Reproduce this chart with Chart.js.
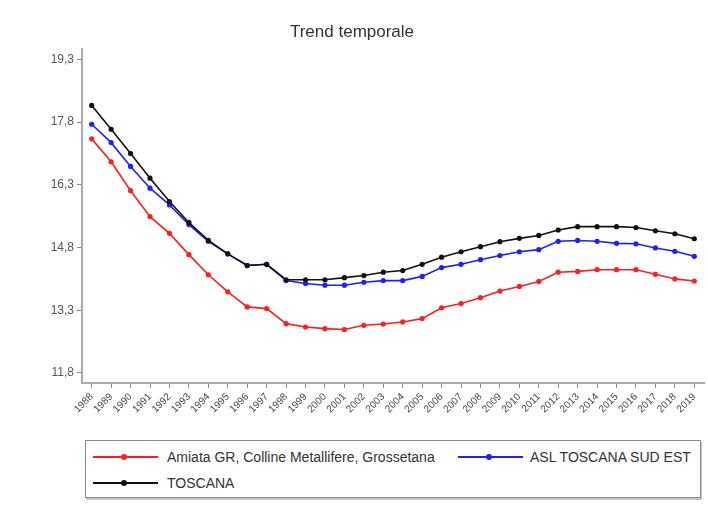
<!DOCTYPE html>
<html>
<head>
<meta charset="utf-8">
<script src="https://cdn.jsdelivr.net/npm/chart.js@4"></script>
<style>
  html, body { margin: 0; padding: 0; background: #fff; }
  body { width: 708px; height: 517px; position: relative; font-family: "Liberation Sans", Arial, sans-serif; }
  #wrap { position: absolute; left: 0; top: 0; width: 708px; height: 432px; }
  #legend {
    position: absolute; left: 85px; top: 440px; width: 614px; height: 56px;
    border: 1px solid #8a8a8a; box-shadow: 1px 2px 0 #c4c4c4;
    font-size: 14px; color: #333;
  }
  .item { position: absolute; height: 16px; line-height: 16px; white-space: nowrap; }
  .swatch { position: absolute; left: 0; top: 7px; width: 65px; height: 2px; }
  .swatch::after { content: ""; position: absolute; left: 28px; top: -2px; width: 6px; height: 6px; border-radius: 50%; background: inherit; }
  .item span { position: absolute; left: 74px; top: 0; }
</style>
</head>
<body>
<div id="wrap"><canvas id="trend"></canvas></div>
<div id="legend">
  <div class="item" style="left:7px;top:8px;width:360px"><div class="swatch" style="background:#ff1e1e"></div><span>Amiata GR, Colline Metallifere, Grossetana</span></div>
  <div class="item" style="left:372px;top:8px;width:240px"><div class="swatch" style="background:#1e1eff"></div><span style="left:72px">ASL TOSCANA SUD EST</span></div>
  <div class="item" style="left:7px;top:34px;width:200px"><div class="swatch" style="background:#111"></div><span>TOSCANA</span></div>
</div>
<script>
// anni 1988 - 2019
const years = [];
for (let y = 1988; y <= 2019; y++) years.push(String(y));

const amiata = [17.40, 16.85, 16.16, 15.54, 15.14, 14.63, 14.15, 13.74, 13.38, 13.34, 12.98,
  12.90, 12.86, 12.84, 12.94, 12.97, 13.02, 13.10, 13.36, 13.46, 13.60, 13.76, 13.87, 13.99,
  14.21, 14.23, 14.27, 14.27, 14.27, 14.16, 14.05, 14.00];
const aslSudEst = [17.75, 17.31, 16.74, 16.22, 15.82, 15.35, 14.95, 14.65, 14.37, 14.40, 14.01,
  13.94, 13.90, 13.90, 13.97, 14.01, 14.01, 14.11, 14.32, 14.40, 14.51, 14.61, 14.70, 14.75,
  14.95, 14.97, 14.95, 14.90, 14.89, 14.79, 14.71, 14.59];
const toscana = [18.20, 17.63, 17.05, 16.46, 15.90, 15.40, 14.97, 14.65, 14.37, 14.40, 14.03,
  14.03, 14.03, 14.08, 14.13, 14.21, 14.25, 14.40, 14.57, 14.70, 14.82, 14.94, 15.02, 15.09,
  15.22, 15.30, 15.30, 15.30, 15.28, 15.20, 15.13, 15.01];

const yTicks = [11.8, 13.3, 14.8, 16.3, 17.8, 19.3];

function serie(label, data, color, order) {
    return {
        label: label,
        data: data,
        borderColor: color,
        backgroundColor: color,
        borderWidth: 1.6,
        pointRadius: 2.6,
        pointHoverRadius: 3,
        pointBackgroundColor: color,
        pointBorderWidth: 0,
        tension: 0,
        order: order
    };
}

new Chart(document.getElementById('trend'), {
    type: 'line',
    data: {
        labels: years,
        datasets: [
            serie('Amiata GR, Colline Metallifere, Grossetana', amiata, '#ff1e1e', 2),
            serie('ASL TOSCANA SUD EST', aslSudEst, '#1e1eff', 1),
            serie('TOSCANA', toscana, '#111111', 0)
        ]
    },
    options: {
        responsive: true,
        maintainAspectRatio: false,
        animation: false,
        layout: { padding: { left: 0, right: 4, top: 0, bottom: 0 } },
        plugins: {
            legend: { display: false },
            tooltip: { enabled: false },
            title: {
                display: true,
                text: 'Trend temporale',
                color: '#333',
                font: { family: '"Liberation Sans", Arial, sans-serif', size: 17, weight: 'normal' },
                padding: { top: 22, bottom: 7 }
            }
        },
        scales: {
            x: {
                offset: true,
                border: { color: '#aaa', width: 2 },
                grid: { drawOnChartArea: false, tickLength: 5, color: '#888' },
                ticks: {
                    color: '#444',
                    minRotation: 45,
                    maxRotation: 45,
                    autoSkip: false,
                    font: { family: '"Liberation Sans", Arial, sans-serif', size: 10 }
                },
                afterFit: s => { s.height = 49; }
            },
            y: {
                min: 11.56,
                max: 19.54,
                border: { color: '#aaa', width: 2 },
                grid: { drawOnChartArea: false, tickLength: 5, color: '#888' },
                afterBuildTicks: s => { s.ticks = yTicks.map(v => ({ value: v })); },
                ticks: {
                    color: '#555',
                    padding: 3,
                    font: { family: '"Liberation Sans", Arial, sans-serif', size: 12 },
                    callback: v => Number(v).toFixed(1).replace('.', ',')
                },
                afterFit: s => { s.width = 82; }
            }
        }
    }
});
</script>
</body>
</html>
